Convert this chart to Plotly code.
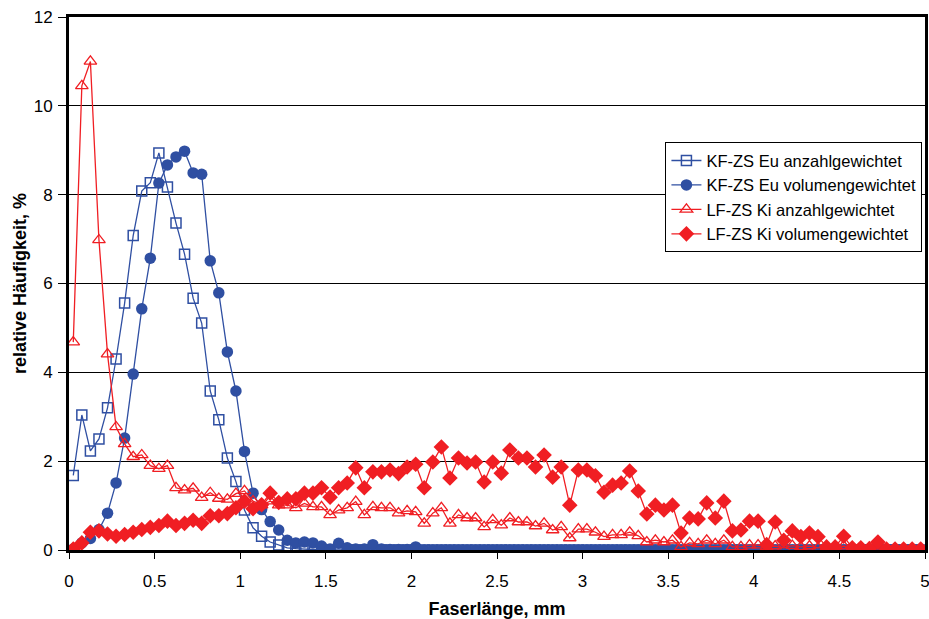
import plotly.graph_objects as go

x_mm = [round(0.025 + 0.05 * i, 3) for i in range(100)]

kf_anzahl = [1.68, 3.04, 2.23, 2.5, 3.2, 4.3, 5.56, 7.08, 8.08, 8.27,
             8.94, 8.17, 7.36, 6.66, 5.67, 5.11, 3.58, 2.93, 2.07, 1.54,
             0.9, 0.5, 0.31, 0.18, 0.11, 0.05, 0.03, 0.02] + [0.0] * 72

kf_volumen = [0.02, 0.16, 0.26, 0.46, 0.83, 1.51, 2.52, 3.96, 5.43, 6.57,
              8.26, 8.67, 8.85, 8.98, 8.49, 8.46, 6.51, 5.79, 4.46, 3.58,
              2.22, 1.28, 0.91, 0.64, 0.45, 0.22, 0.16, 0.18, 0.16, 0.09,
              0.02, 0.15, 0.05, 0.02, 0.02, 0.12, 0.02, 0.01, 0.01, 0.01,
              0.07] + [0.0] * 59

lf_anzahl = [4.68, 10.45, 11.0, 6.98, 4.41, 2.77, 2.39, 2.1, 2.14, 1.9,
             1.83, 1.9, 1.4, 1.35, 1.39, 1.18, 1.29, 1.16, 1.14, 1.27,
             1.33, 1.1, 1.01, 1.1, 1.01, 1.01, 0.95, 1.05, 0.97, 0.97,
             0.79, 0.9, 0.95, 1.09, 0.79, 0.97, 0.95, 0.95, 0.83, 0.88,
             0.86, 0.6, 0.83, 0.95, 0.6, 0.79, 0.72, 0.72, 0.52, 0.68,
             0.56, 0.72, 0.63, 0.63, 0.54, 0.6, 0.45, 0.52, 0.27, 0.47,
             0.47, 0.4, 0.3, 0.34, 0.34, 0.4, 0.32, 0.18, 0.22, 0.18,
             0.22, 0.07, 0.16, 0.14, 0.22, 0.14, 0.22, 0.07, 0.07, 0.11,
             0.11, 0.07, 0.09, 0.05, 0.1, 0.07, 0.09, 0.05, 0.07, 0.05,
             0.09, 0.04, 0.05, 0.04, 0.06, 0.02, 0.0, 0.0, 0.0, 0.0]

lf_volumen = [0.02, 0.16, 0.4, 0.43, 0.36, 0.31, 0.35, 0.4, 0.46, 0.51,
              0.55, 0.65, 0.55, 0.6, 0.67, 0.6, 0.77, 0.77, 0.82, 0.95,
              1.1, 0.93, 1.02, 1.28, 1.07, 1.15, 1.15, 1.28, 1.28, 1.4,
              1.19, 1.4, 1.51, 1.85, 1.4, 1.76, 1.76, 1.8, 1.72, 1.87,
              1.93, 1.4, 1.98, 2.32, 1.62, 2.07, 1.96, 1.98, 1.53, 1.98,
              1.73, 2.25, 2.07, 2.07, 1.87, 2.14, 1.64, 1.87, 1.01, 1.8,
              1.8, 1.67, 1.3, 1.46, 1.51, 1.78, 1.33, 0.81, 1.01, 0.9,
              1.01, 0.38, 0.72, 0.7, 1.06, 0.72, 1.1, 0.43, 0.45, 0.65,
              0.65, 0.12, 0.63, 0.22, 0.43, 0.3, 0.38, 0.3, 0.07, 0.07,
              0.31, 0.05, 0.05, 0.03, 0.18, 0.02, 0.02, 0.02, 0.02, 0.02]

x_ticks = [0, 0.5, 1, 1.5, 2, 2.5, 3, 3.5, 4, 4.5, 5]
x_tick_text = ["0", "0.5", "1", "1.5", "2", "2.5", "3", "3.5", "4", "4.5", "5"]
y_ticks = [0, 2, 4, 6, 8, 10, 12]

names = ["KF-ZS Eu anzahlgewichtet", "KF-ZS Eu volumengewichtet",
         "LF-ZS Ki anzahlgewichtet", "LF-ZS Ki volumengewichtet"]

BLUE = "#2F4FA2"
RED = "#F01E23"

fig = go.Figure()
fig.add_trace(go.Scatter(x=x_mm, y=kf_anzahl, name=names[0], mode="lines+markers",
                         line=dict(color=BLUE, width=1.3),
                         marker=dict(symbol="square-open", size=10, color=BLUE,
                                     line=dict(width=1.5, color=BLUE))))
fig.add_trace(go.Scatter(x=x_mm, y=kf_volumen, name=names[1], mode="lines+markers",
                         line=dict(color=BLUE, width=1.3),
                         marker=dict(symbol="circle", size=11.5, color=BLUE)))
fig.add_trace(go.Scatter(x=x_mm, y=lf_anzahl, name=names[2], mode="lines+markers",
                         line=dict(color=RED, width=1.3),
                         marker=dict(symbol="triangle-up-open", size=11, color=RED,
                                     line=dict(width=1.3, color=RED))))
fig.add_trace(go.Scatter(x=x_mm, y=lf_volumen, name=names[3], mode="lines+markers",
                         line=dict(color=RED, width=1.3),
                         marker=dict(symbol="diamond", size=12, color=RED)))

fig.update_layout(
    width=929, height=619,
    margin=dict(l=69, r=4, t=17, b=69),
    paper_bgcolor="white", plot_bgcolor="white",
    font=dict(family="Liberation Sans, Arial, sans-serif", size=17, color="black"),
    legend=dict(x=0.997, xanchor="right", y=0.765, yanchor="top",
                bgcolor="white", bordercolor="black", borderwidth=1,
                font=dict(size=16.5), tracegroupgap=0),
    xaxis=dict(range=[0, 5], tickvals=x_ticks, ticktext=x_tick_text,
               showline=True, linecolor="black", linewidth=3, mirror=True,
               ticks="outside", ticklen=6, tickwidth=1, tickcolor="black", showgrid=False,
               zeroline=False, automargin=False, ticklabelstandoff=8,
               ticklabeloverflow="allow",
               title=dict(text="<b>Faserlänge, mm</b>", font=dict(size=18), standoff=20)),
    yaxis=dict(range=[0, 12], tickvals=y_ticks,
               showline=True, linecolor="black", linewidth=3, mirror=True,
               ticks="outside", ticklen=8, tickwidth=1, tickcolor="black",
               showgrid=True, gridcolor="black", gridwidth=1, zeroline=False,
               automargin=False, ticklabelstandoff=2, ticklabeloverflow="allow",
               title=dict(text="<b>relative Häufigkeit, %</b>", font=dict(size=18), standoff=3)),
)

fig.write_html("out.html")
